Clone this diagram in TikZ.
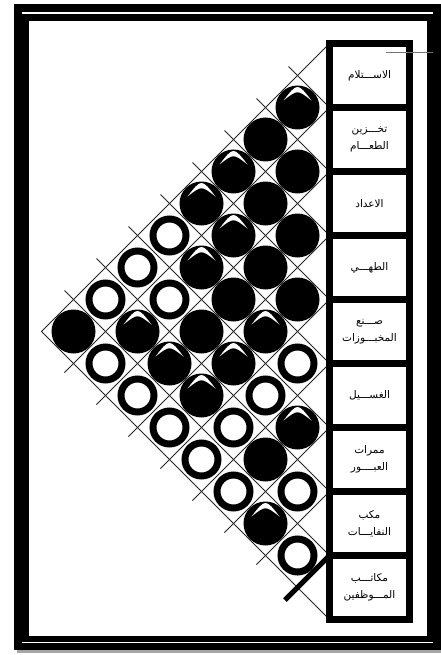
\documentclass[tikz,border=0pt]{standalone}
\usepackage{fontspec}
\newfontfamily\arabicfont[Script=Arabic]{DejaVu Sans}
\TeXXeTstate=1
\begin{document}
\begin{tikzpicture}[x=1pt,y=-1pt,
  gl/.style={line width=0.8pt, black!85},
  cB/.style={circle, fill=black, minimum size=44pt, inner sep=0pt},
  cH/.style={cB},
  cW/.style={circle, draw=black, fill=white, line width=7pt, minimum size=33pt, inner sep=0pt},
  dept/.style={draw=black, line width=7pt, fill=white, minimum width=80pt, minimum height=64pt, inner sep=0pt, align=center, font=\arabicfont\fontsize{10.5}{17}\selectfont},
]
\useasboundingbox (0,0) rectangle (441,655);
% frame
\fill[black!35] (17,650) rectangle (441,653);
\fill[black] (14,4) rectangle (441,650);
\fill[white] (28.5,21) rectangle (427,636);
\draw[white, line width=1.3pt] (22,13) -- (433,13);
\draw[white, line width=1.3pt] (22,642.5) -- (433,642.5);
% grid
\coordinate (apex) at (41.5,331.5);
\coordinate (g0) at (329.5,43.5);
\coordinate (g9) at (329.5,619.5);
\draw[gl] (g0) -- (apex) -- (g9);
\foreach \k in {1,...,8}{
  \pgfmathsetmacro\yk{43.5+64*\k}
  \pgfmathsetmacro\xa{(\yk+39.5)/2-9}
  \pgfmathsetmacro\ya{\yk+329.5-\xa}
  \pgfmathsetmacro\xb{(702.5-\yk)/2-9}
  \pgfmathsetmacro\yb{\yk-329.5+\xb}
  \coordinate (g\k) at (329.5,\yk);
  \coordinate (d\k) at (\xa,\ya);
  \coordinate (u\k) at (\xb,\yb);
  \draw[gl] (g\k) -- (u\k);
  \ifnum\k<8 \draw[gl] (g\k) -- (d\k);\fi
}
% circles
\foreach \i/\j/\s in {1/2/cH,1/3/cB,1/4/cH,2/3/cB,1/5/cH,2/4/cB,3/4/cB,2/5/cH,1/6/cW,
  3/5/cB,2/6/cH,1/7/cW,4/5/cB,3/6/cB,2/7/cW,1/8/cW,1/9/cB,2/8/cH,3/7/cB,4/6/cH,
  5/6/cW,4/7/cH,3/8/cH,2/9/cW,3/9/cW,4/8/cH,5/7/cW,6/7/cH,5/8/cW,4/9/cW,5/9/cW,
  6/8/cB,7/8/cW,6/9/cW,7/9/cH,8/9/cW}{
  \pgfmathsetmacro\cx{329.5-32*(\j-\i)}
  \pgfmathsetmacro\cy{11.5+32*(\i+\j)}
  \node[\s] (c\i\j) at (\cx,\cy) {};
}
\foreach \n in {c12,c14,c15,c25,c26,c28,c46,c47,c38,c48,c67,c79}
  \fill[white, shift={(\n.center)}] (-14,-7) .. controls (0,-25) .. (14,-7) .. controls (0,-18) .. cycle;
\coordinate (tail) at (285,600);
\draw[line width=5pt] (g8) -- (tail);
% departments
\node[dept] (b1) at (369.5,75.5) {\beginR الاســـتلام\endR};
\node[dept] (b2) at (369.5,139.5) {\beginR تخـــزين\endR\\\beginR الطعـــام\endR};
\node[dept] (b3) at (369.5,203.5) {\beginR الاعداد\endR};
\node[dept] (b4) at (369.5,267.5) {\beginR الطهـــي\endR};
\node[dept] (b5) at (369.5,331.5) {\beginR صـــنع\endR\\\beginR المخبـــوزات\endR};
\node[dept] (b6) at (369.5,395.5) {\beginR الغســـيل\endR};
\node[dept] (b7) at (369.5,459.5) {\beginR ممرات\endR\\\beginR العبــــور\endR};
\node[dept] (b8) at (369.5,523.5) {\beginR مكب\endR\\\beginR النفايـــات\endR};
\node[dept] (b9) at (369.5,587.5) {\beginR مكاتـــب\endR\\\beginR المـــوظفين\endR};
% leader line
\coordinate (la) at (386,52.5);
\coordinate (lb) at (433,52.5);
\draw[black!55, line width=1pt] (la) -- (lb);
\end{tikzpicture}
\end{document}
